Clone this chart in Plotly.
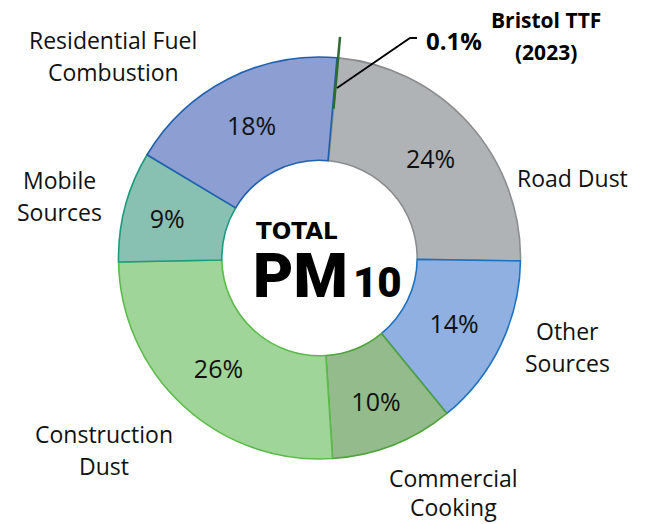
import math
import plotly.graph_objects as go

categories = ["Bristol TTF (2023)", "Road Dust", "Other Sources", "Commercial Cooking",
              "Construction Dust", "Mobile Sources", "Residential Fuel Combustion"]
values = [0.1, 24, 14, 10, 26, 9, 18]
inside_text = ["", "24%", "14%", "10%", "26%", "9%", "18%"]
outside_label_lines = [["Road Dust"], ["Other", "Sources"], ["Commercial", "Cooking"],
                       ["Construction", "Dust"], ["Mobile", "Sources"],
                       ["Residential Fuel", "Combustion"]]

fill_colors = ["#2E6B30", "#B0B3B6", "#8FB0E0", "#93BB8B", "#9FD598", "#88C0B1", "#8C9ED2"]
line_colors = ["#2E6B30", "#8A8D90", "#1F72C0", "#4FA33A", "#5BBB4A", "#1E9A7E", "#2060B0"]

W, H = 649, 524
rotation = 5.0
font_main = "Open Sans, Lato, sans-serif"

fig = go.Figure()
fig.add_trace(go.Pie(
    labels=categories,
    values=values,
    text=inside_text,
    textinfo="text",
    textposition="inside",
    insidetextorientation="horizontal",
    textfont=dict(family=font_main, size=25, color="#111111"),
    marker=dict(colors=fill_colors, line=dict(color=line_colors, width=1.6)),
    hole=0.486,
    sort=False,
    direction="clockwise",
    rotation=rotation,
    showlegend=False,
    domain=dict(x=[118 / W, 521 / W], y=[(H - 459) / H, (H - 57) / H]),
))

# extension of the tiny TTF slice beyond the ring
cx, cy = 320 / W, 1 - 258 / H
ang = math.radians(rotation + 360 * values[0] / sum(values) / 2)
r0, r1 = 150, 222
fig.add_shape(type="line", xref="paper", yref="paper",
              x0=cx + r0 * math.sin(ang) / W, y0=cy + r0 * math.cos(ang) / H,
              x1=cx + r1 * math.sin(ang) / W, y1=cy + r1 * math.cos(ang) / H,
              line=dict(color="#2E6B30", width=2.5))
# leader line for 0.1%
fig.add_shape(type="path", xref="paper", yref="paper",
              path=f"M {337/W},{1-88/H} L {410/W},{1-38/H} L {417/W},{1-38/H}",
              line=dict(color="#000000", width=1.8))

ann = []
# (x centre, y of first line) in pixels
pos = [(572, 178), (567, 331), (453, 478), (104, 434), (59, 180), (113, 40)]
line_gap = 32
for lines, (x, y) in zip(outside_label_lines, pos):
    for i, txt in enumerate(lines):
        yy = min(y + i * line_gap, 507)
        ann.append(dict(text=txt, x=x / W, y=1 - yy / H, xref="paper", yref="paper",
                        showarrow=False, xanchor="center", yanchor="middle",
                        font=dict(family=font_main, size=23, color="#111111")))
ann.append(dict(text="<b>0.1%</b>", x=454 / W, y=1 - 40 / H, xref="paper", yref="paper",
                showarrow=False, xanchor="center", yanchor="middle",
                font=dict(family=font_main, size=24, color="#000000")))
for i, txt in enumerate(["Bristol TTF", "(2023)"]):
    ann.append(dict(text=f"<b>{txt}</b>", x=546 / W, y=1 - (20 + i * 32) / H, xref="paper", yref="paper",
                    showarrow=False, xanchor="center", yanchor="middle",
                    font=dict(family=font_main, size=21, color="#000000")))
heavy = "Roboto, DejaVu Sans, Arial Black, sans-serif"
ann.append(dict(text="<b>TOTAL</b>", x=297 / W, y=1 - 231 / H, xref="paper", yref="paper",
                showarrow=False, xanchor="center", yanchor="middle",
                font=dict(family="DejaVu Sans, sans-serif", size=23, color="#000000")))
ann.append(dict(text="PM", x=251 / W, y=1 - 275 / H, xref="paper", yref="paper",
                showarrow=False, xanchor="left", yanchor="middle",
                font=dict(family=heavy, size=62, color="#000000", weight=900)))
ann.append(dict(text="10", x=351 / W, y=1 - 282 / H, xref="paper", yref="paper",
                showarrow=False, xanchor="left", yanchor="middle",
                font=dict(family=heavy, size=42, color="#000000", weight=900)))

fig.update_layout(width=W, height=H, margin=dict(l=0, r=0, t=0, b=0),
                  paper_bgcolor="white", plot_bgcolor="white", annotations=ann)
fig.write_html("out.html", config={"displayModeBar": False},
               post_script="document.body.style.margin='0px';")
